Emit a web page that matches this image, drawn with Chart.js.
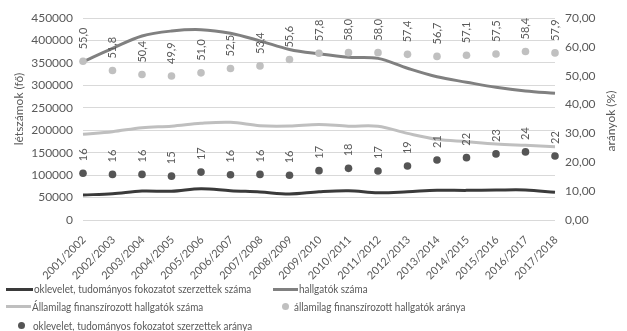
<!DOCTYPE html>
<html>
<head>
<meta charset="utf-8">
<script src="https://cdn.jsdelivr.net/npm/chart.js@4.4.0/dist/chart.umd.min.js"></script>
<style>
html,body{margin:0;padding:0;background:#fff;}
#wrap{position:relative;width:627px;height:331px;}
#legend{position:absolute;left:0;top:0;width:627px;height:331px;font-family:Lato,sans-serif;font-size:11px;color:#595959;pointer-events:none;}
.li{position:absolute;white-space:nowrap;line-height:14px;height:14px;transform:scaleX(0.9);transform-origin:0 50%;}
.mk{position:absolute;}
</style>
</head>
<body>
<div id="wrap"><canvas id="c" width="627" height="331"></canvas><div id="legend"></div></div>
<script>
// tanévek
const evek = ["2001/2002","2002/2003","2003/2004","2004/2005","2005/2006","2006/2007","2007/2008","2008/2009","2009/2010","2010/2011","2011/2012","2012/2013","2013/2014","2014/2015","2015/2016","2016/2017","2017/2018"];
// létszámok (fő)
const oklevelSzam   = [55700,58500,64600,64000,69800,65300,62400,58000,63000,65300,60800,63000,66200,66000,66800,67000,61700];
const hallgatokSzam = [352700,382500,410000,421000,424000,416000,399000,380000,370000,362500,360000,338000,319000,307000,295600,287400,282300];
const allamiSzam    = [191000,196800,205600,209000,215400,217600,210000,209400,213000,209000,208700,193000,179800,174500,169300,166300,163400];
// arányok (%)
const allamiArany   = [55.0,51.8,50.4,49.9,51.0,52.5,53.4,55.6,57.8,58.0,58.0,57.4,56.7,57.1,57.5,58.4,57.9];
const oklevelArany  = [16.2,15.8,15.8,15.2,16.6,15.7,15.8,15.5,17.1,17.9,17.0,18.7,20.8,21.6,22.9,23.6,22.2];
// sorozatok nevei
const nevek = ["oklevelet, tudományos fokozatot szerzettek száma","hallgatók száma","Államilag finanszírozott hallgatók száma","államilag finanszírozott hallgatók aránya","oklevelet, tudományos fokozatot szerzettek aránya"];
const tengelyCimek = ["létszámok (fő)","arányok (%)"];

const szoveg = "#595959";
const betu = "Lato, sans-serif";

const cimkek = {
  id: "cimkek",
  afterDatasetsDraw(chart) {
    const ctx = chart.ctx;
    ctx.save();
    ctx.fillStyle = szoveg;
    ctx.font = "11px " + betu;
    ctx.textAlign = "left";
    ctx.textBaseline = "middle";
    [3,4].forEach(function(di){
      const meta = chart.getDatasetMeta(di);
      const vals = chart.data.datasets[di].data;
      meta.data.forEach(function(pt, i){
        const t = di == 3 ? vals[i].toFixed(1).replace(".", ",") : String(Math.round(vals[i]));
        ctx.save();
        ctx.translate(pt.x, pt.y - 12);
        ctx.rotate(-Math.PI/2);
        ctx.fillText(t, 0, 0);
        ctx.restore();
      });
    });
    // x tengely feliratai, 45 fokban
    const xs = chart.scales.x;
    ctx.textAlign = "right";
    chart.data.labels.forEach(function(l, i){
      ctx.save();
      ctx.translate(xs.getPixelForValue(i) + 1, 238);
      ctx.rotate(-Math.PI/4);
      ctx.fillText(l, 0, 0);
      ctx.restore();
    });
    // tengelycímek
    const a = chart.chartArea;
    const mid = (a.top + a.bottom) / 2;
    ctx.font = "12px " + betu;
    ctx.textAlign = "center";
    ctx.save();
    ctx.translate(19, mid - 10);
    ctx.rotate(-Math.PI/2);
    ctx.fillText(tengelyCimek[0], 0, 0);
    ctx.restore();
    ctx.save();
    ctx.translate(611, mid + 2);
    ctx.rotate(-Math.PI/2);
    ctx.fillText(tengelyCimek[1], 0, 0);
    ctx.restore();
    ctx.restore();
  }
};

const chart = new Chart(document.getElementById("c"), {
  type: "line",
  data: {
    labels: evek,
    datasets: [
      {label: nevek[0], data: oklevelSzam, yAxisID: "y", borderColor: "#3a3a3a", borderWidth: 3, pointRadius: 0, tension: 0.35, order: 5},
      {label: nevek[1], data: hallgatokSzam, yAxisID: "y", borderColor: "#808080", borderWidth: 3, pointRadius: 0, tension: 0.35, order: 4},
      {label: nevek[2], data: allamiSzam, yAxisID: "y", borderColor: "#bfbfbf", borderWidth: 3, pointRadius: 0, tension: 0.35, order: 3},
      {label: nevek[3], data: allamiArany, yAxisID: "y1", showLine: false, pointRadius: 3.8, pointBorderWidth: 0, pointBackgroundColor: "#c0c0c0", borderColor: "#c0c0c0", order: 2},
      {label: nevek[4], data: oklevelArany, yAxisID: "y1", showLine: false, pointRadius: 3.8, pointBorderWidth: 0, pointBackgroundColor: "#555555", borderColor: "#555555", order: 1}
    ]
  },
  options: {
    responsive: false,
    animation: false,
    layout: {padding: {top: 18, bottom: 61, left: 0, right: 0}},
    plugins: {legend: {display: false}, tooltip: {enabled: false}},
    scales: {
      x: {
        grid: {display: false},
        border: {display: false},
        ticks: {display: false},
        afterFit: function(s){ s.height = 50; }
      },
      y: {
        position: "left",
        min: 0, max: 450000,
        border: {display: false},
        grid: {color: "#d9d9d9", lineWidth: 1, drawTicks: false},
        ticks: {stepSize: 50000, color: szoveg, font: {family: betu, size: 12}, padding: 10, callback: function(v){ return String(v); }},
        afterFit: function(s){ s.width = 83; }
      },
      y1: {
        position: "right",
        min: 0, max: 70,
        border: {display: false},
        grid: {display: false, drawTicks: false},
        ticks: {stepSize: 10, color: szoveg, font: {family: betu, size: 12}, padding: 10, callback: function(v){ return v.toFixed(2).replace(".", ","); }},
        afterFit: function(s){ s.width = 72; }
      }
    }
  },
  plugins: [cimkek]
});

// jelmagyarázat
const tetelek = [
  {i: 0, tipus: "vonal", x1: 6, x2: 33, tx: 34, y: 289},
  {i: 1, tipus: "vonal", x1: 273, x2: 298, tx: 299, y: 289},
  {i: 2, tipus: "vonal", x1: 6, x2: 31, tx: 32, y: 306.5},
  {i: 3, tipus: "pont", x1: 285, tx: 294, y: 306.5},
  {i: 4, tipus: "pont", x1: 21, tx: 33, y: 325.5}
];
const lg = document.getElementById("legend");
tetelek.forEach(function(t){
  const ds = chart.data.datasets[t.i];
  const mk = document.createElement("div");
  mk.className = "mk";
  if (t.tipus == "vonal") {
    mk.style.left = t.x1 + "px"; mk.style.width = (t.x2 - t.x1) + "px";
    mk.style.top = (t.y - 1.5) + "px"; mk.style.height = "3px";
    mk.style.background = ds.borderColor;
  } else {
    mk.style.left = (t.x1 - 3.5) + "px"; mk.style.top = (t.y - 3.5) + "px";
    mk.style.width = "7px"; mk.style.height = "7px"; mk.style.borderRadius = "50%";
    mk.style.background = ds.pointBackgroundColor;
  }
  lg.appendChild(mk);
  const tx = document.createElement("div");
  tx.className = "li";
  tx.style.left = t.tx + "px"; tx.style.top = (t.y - 7) + "px";
  tx.textContent = ds.label;
  lg.appendChild(tx);
});
</script>
</body>
</html>
